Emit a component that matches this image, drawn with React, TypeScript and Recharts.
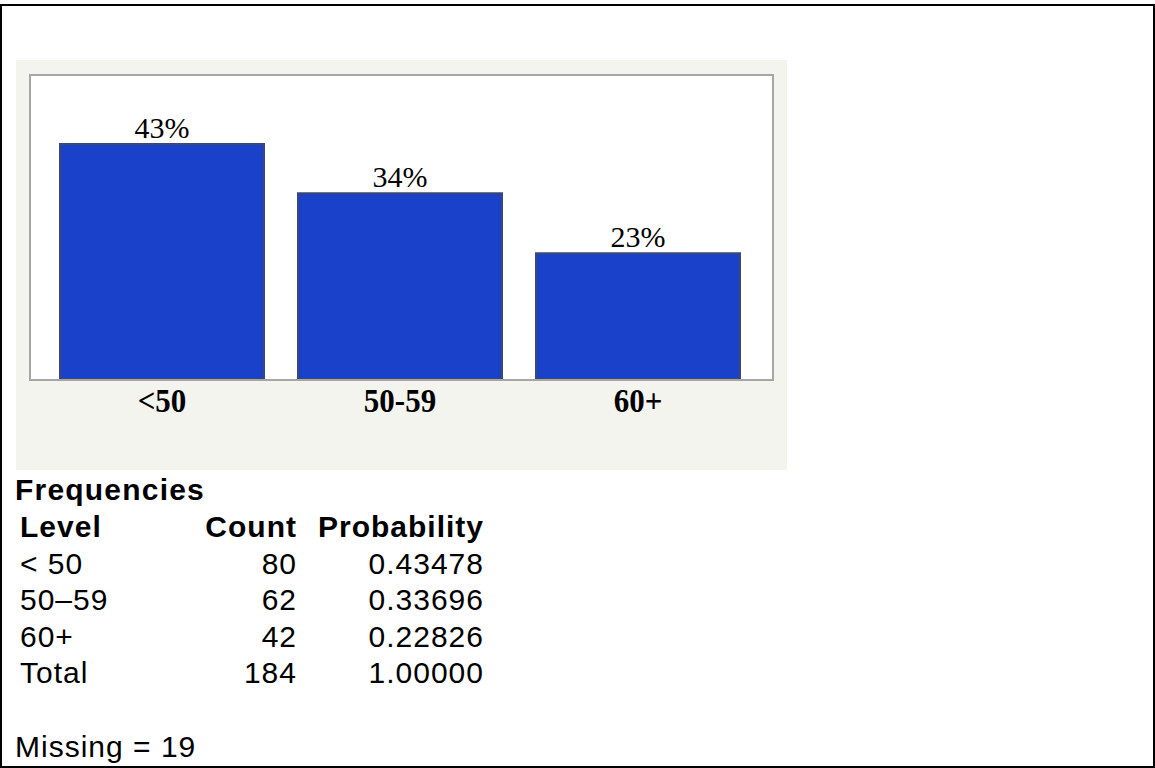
import React from 'react';
import { BarChart, Bar, XAxis, YAxis, LabelList } from 'recharts';

const levels = ['<50', '50-59', '60+'];
const percentLabels = [43, 34, 23];
const tableLevels = ['< 50', '50–59', '60+'];
const counts = [80, 62, 42];
const probabilities = ['0.43478', '0.33696', '0.22826'];
const totalCount = 184;
const totalProbability = '1.00000';
const missing = 19;
const yDomain: [number, number] = [0, 55.44];

const data = levels.map((l, i) => ({ level: l, pct: percentLabels[i] }));

const serif = '"Liberation Serif", "Times New Roman", serif';
const sans = '"Liberation Sans", Arial, sans-serif';

function Tick(props: any) {
  const { x, y, payload } = props;
  return (
    <text
      transform={`translate(${x},${y + 33}) scale(1,1.1)`}
      x={0}
      y={0}
      textAnchor="middle"
      fontFamily={serif}
      fontWeight="bold"
      fontSize={31}
      fill="#000"
    >
      {payload.value}
    </text>
  );
}

const rowBase = [573.5, 610, 646.5];

export default function App() {
  const t = { fontSize: 30, letterSpacing: 1 } as any;
  return (
    <div style={{ position: 'absolute', left: 0, top: 0, width: 1155, height: 768, background: '#fff', overflow: 'hidden' }}>
      <div style={{ position: 'absolute', left: 0, top: 4, width: 1155, height: 764, border: '2px solid #000', boxSizing: 'border-box' }} />
      <div style={{ position: 'absolute', left: 16, top: 60, width: 771, height: 410, background: '#f4f4ef' }} />
      <div style={{ position: 'absolute', left: 29, top: 74, width: 745, height: 307, background: '#fff' }} />
      <div style={{ position: 'absolute', left: 16, top: 60 }}>
        <BarChart width={771} height={410} data={data} margin={{ top: 16, right: 14, left: 14, bottom: 0 }}>
          <XAxis
            dataKey="level"
            height={91}
            axisLine={false}
            tickLine={false}
            tickSize={0}
            tickMargin={0}
            padding={{ left: 13, right: 16 }}
            tick={<Tick />}
            interval={0}
          />
          <YAxis hide domain={yDomain} />
          <Bar dataKey="pct" fill="#1a41c9" stroke="#3b4875" strokeWidth={2} barSize={204} isAnimationActive={false}>
            <LabelList
              dataKey="pct"
              position="top"
              offset={6}
              formatter={(v: any) => `${v}%`}
              style={{ fontFamily: serif, fontSize: 30, fill: '#000' }}
            />
          </Bar>
        </BarChart>
      </div>
      <div style={{ position: 'absolute', left: 29, top: 74, width: 745, height: 307, border: '2px solid #a6a6a6', boxSizing: 'border-box', pointerEvents: 'none' }} />
      <svg width={1155} height={768} style={{ position: 'absolute', left: 0, top: 0, pointerEvents: 'none' }}>
        <g fontFamily={sans} fill="#000">
          <text x={15} y={499.5} {...t} letterSpacing={1.2} fontWeight="bold">Frequencies</text>
          <text x={20} y={537} {...t} fontWeight="bold">Level</text>
          <text x={297} y={537} {...t} fontWeight="bold" textAnchor="end">Count</text>
          <text x={484} y={537} {...t} fontWeight="bold" textAnchor="end">Probability</text>
          {tableLevels.map((l, i) => (
            <g key={l}>
              <text x={20} y={rowBase[i]} {...t}>{l}</text>
              <text x={297} y={rowBase[i]} {...t} textAnchor="end">{counts[i]}</text>
              <text x={484} y={rowBase[i]} {...t} textAnchor="end">{probabilities[i]}</text>
            </g>
          ))}
          <text x={20} y={683} {...t}>Total</text>
          <text x={297} y={683} {...t} textAnchor="end">{totalCount}</text>
          <text x={484} y={683} {...t} textAnchor="end">{totalProbability}</text>
          <text x={15} y={756.5} {...t}>{`Missing = ${missing}`}</text>
        </g>
      </svg>
    </div>
  );
}
